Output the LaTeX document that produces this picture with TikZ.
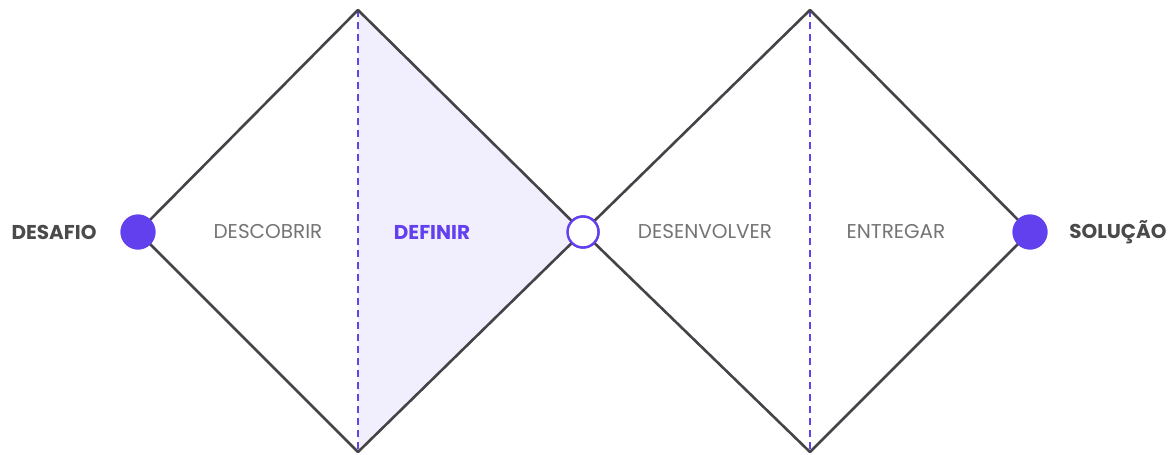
\documentclass[tikz,border=0pt]{standalone}
\usepackage{fontspec}
\setmainfont{Poppins}
\usetikzlibrary{positioning}

\definecolor{lineGrey}{HTML}{454348}
\definecolor{roxo}{HTML}{6240EE}
\definecolor{lilas}{HTML}{F1EEFD}
\definecolor{textoGrey}{HTML}{747474}
\definecolor{fimGrey}{HTML}{4A4A4A}

\tikzset{
  edge/.style={draw=lineGrey,line width=2.6pt,line join=round,line cap=round},
  divisor/.style={draw=roxo,line width=1.1pt,dash pattern=on 7pt off 5pt},
  ponto/.style={circle,fill=roxo,minimum size=35pt,inner sep=0pt},
  pontoVazio/.style={circle,fill=white,draw=roxo,line width=2.4pt,minimum size=31pt,inner sep=0pt},
  fase/.style={font=\fontsize{20}{24}\selectfont,text=textoGrey},
  fim/.style={font=\fontsize{20}{24}\selectfont\bfseries,text=fimGrey},
}

\begin{document}
\begin{tikzpicture}[x=1pt,y=-1pt]
            \useasboundingbox (0,0) rectangle (1173,455);

            % vertices of the two diamonds
            \coordinate (D1t) at (358,10);
            \coordinate (D1b) at (358,452);
            \coordinate (D2t) at (810,10);
            \coordinate (D2b) at (810,452);

            \node[ponto] (desafio) at (138,232) {};
            \node[pontoVazio] (meio) at (583,232) {};
            \node[ponto] (solucao) at (1030,232) {};

            % DEFINIR half
            \fill[lilas] (D1t) -- (meio.center) -- (D1b) -- cycle;

            \draw[divisor] (D1t) -- (D1b);
            \draw[divisor] (D2t) -- (D2b);

            \draw[edge] (desafio.center) -- (D1t) -- (meio.center) -- (D1b) -- cycle;
            \draw[edge] (meio.center) -- (D2t) -- (solucao.center) -- (D2b) -- cycle;

            % redraw circles on top of the lines
            \node[ponto] at (desafio) {};
            \node[pontoVazio] at (meio) {};
            \node[ponto] at (solucao) {};

            \node[fim] (tDesafio) at (54,232) {DESAFIO};
            \node[fase] (tDescobrir) at (268,232) {DESCOBRIR};
            \node[fase,text=roxo,font=\fontsize{20}{24}\selectfont\bfseries] (tDefinir) at (432,232) {DEFINIR};
            \node[fase] (tDesenvolver) at (705,232) {DESENVOLVER};
            \node[fase] (tEntregar) at (896,232) {ENTREGAR};
            \node[fim] (tSolucao) at (1118,232) {SOLUÇÃO};
\end{tikzpicture}
\end{document}
